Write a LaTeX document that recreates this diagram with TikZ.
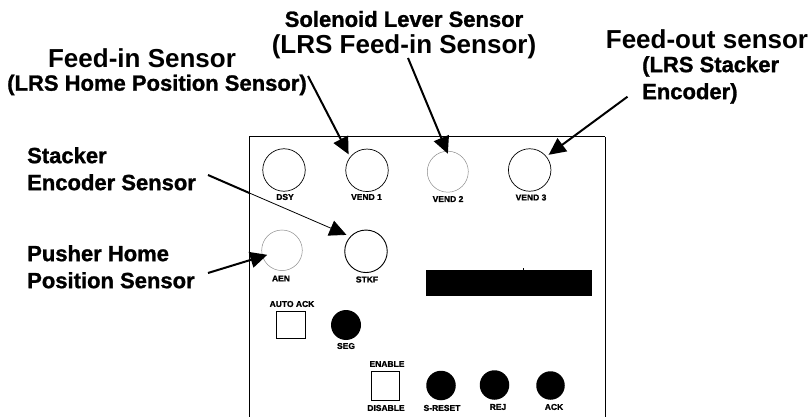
\documentclass[tikz,border=0pt]{standalone}
\usepackage{fontspec}
\setmainfont{Liberation Sans}
\newfontfamily\heavyfont[UprightFont=* Bold,FakeBold=1.2]{Liberation Sans}
\usetikzlibrary{arrows.meta}
\tikzset{
  leader/.style={line width=2pt,draw=black,-{Triangle[length=17pt,width=16pt]}},
  sensor/.style={circle,draw=black,line width=0.7pt,minimum size=42.5pt,inner sep=0pt},
  dimsensor/.style={sensor,draw=black!45,line width=0.5pt},
  button/.style={circle,fill=black,inner sep=0pt},
  toggle/.style={rectangle,draw=black,line width=0.7pt,inner sep=0pt},
  biglabel/.style={font=\fontsize{26}{27}\selectfont\bfseries,inner sep=0pt},
  heavylabel/.style={font=\fontsize{22}{27}\selectfont\heavyfont,inner sep=0pt},
  tag/.style={font=\fontsize{8.5}{9}\selectfont\heavyfont,inner sep=0pt}
}
\begin{document}
\begin{tikzpicture}[x=1pt, y=-1pt]
    \useasboundingbox (0,0) rectangle (812,417);
    % panel
    \draw[line width=0.9pt] (249.4,417) -- (249.4,136.8) -- (605.2,136.8);
    \draw[line width=1.3pt] (605.2,136.8) -- (605.2,417);
    \node[sensor] (dsy) at (284,170) {};
    \node[sensor] (vend1) at (367,170.3) {};
    \node[dimsensor,minimum size=41pt] (vend2) at (447.8,171.7) {};
    \node[sensor] (vend3) at (529.7,170) {};
    \node[dimsensor,minimum size=40.6pt] (aen) at (282,250.3) {};
    \node[sensor,line width=0.9pt] (stkf) at (366,251.3) {};
    \node[tag] at (285,197) {DSY};
    \node[tag] at (366.5,197) {VEND 1};
    \node[tag] at (448,199) {VEND 2};
    \node[tag] at (531,197.5) {VEND 3};
    \node[tag] at (281,278.5) {AEN};
    \node[tag] at (367,279.5) {STKF};
    %
    \node[tag] at (292,304) {AUTO ACK};
    \node[toggle,minimum width=29pt,minimum height=27pt] (autoack) at (290.5,324.5) {};
    \node[button,minimum size=30pt] (seg) at (346,325) {};
    \node[tag] at (346,346) {SEG};
    \node[tag] at (387,364) {ENABLE};
    \node[toggle,minimum width=28pt,minimum height=29pt] (enable) at (385,385.5) {};
    \node[tag] at (386,408) {DISABLE};
    \node[button,minimum size=29.5pt] (sreset) at (441,385.5) {};
    \node[button,minimum size=29.5pt] (rej) at (494.5,385) {};
    \node[button,minimum size=28.5pt] (ack) at (550.5,385.5) {};
    \node[tag] at (442,408) {S-RESET};
    \node[tag] at (498,407) {REJ};
    \node[tag] at (554,407) {ACK};
    % display
    \node[rectangle,fill=black,minimum width=166pt,minimum height=25.4pt,inner sep=0pt] (display) at (509,283) {};
    \draw[line width=0.6pt] (display.north) ++(14,0) -- ++(0,-2.5);
    % labels
    \node[biglabel] at (142,58) {Feed-in Sensor};
    \node[heavylabel] at (157,85) {(LRS Home Position Sensor)};
    \node[heavylabel] at (404,19) {Solenoid Lever Sensor};
    \node[biglabel] at (404,47) {(LRS Feed-in Sensor)};
    \node[biglabel] at (707,39) {Feed-out sensor};
    \node[heavylabel,align=left,anchor=north west] at (642,56) {(LRS Stacker\\Encoder)};
    \node[heavylabel,align=left,anchor=north west] at (27,147) {Stacker\\Encoder Sensor};
    \node[heavylabel,align=left,anchor=north west] at (27,245) {Pusher Home\\Position Sensor};
    % arrows
    \coordinate (feedinstart) at (308,76);
    \coordinate (solenoidstart) at (408,58);
    \coordinate (feedoutstart) at (627.5,96.7);
    \coordinate (stackerstart) at (208,175);
    \coordinate (stackeredge) at (249.4,193);
    \coordinate (pusherstart) at (208,273);
    \draw[leader,shorten >=3pt] (feedinstart) -- (vend1.142);
    \draw[leader,shorten >=-3pt] (solenoidstart) -- (vend2.93);
    \draw[leader,shorten >=2.7pt] (feedoutstart) -- (vend3.39);
    \draw[line width=2pt] (stackerstart) -- (stackeredge);
    \draw[leader,line width=0.8pt,shorten >=4pt] (stackeredge) -- (stkf.137);
    \draw[leader,shorten >=15.4pt] (pusherstart) -- (aen.center);
\end{tikzpicture}
\end{document}
